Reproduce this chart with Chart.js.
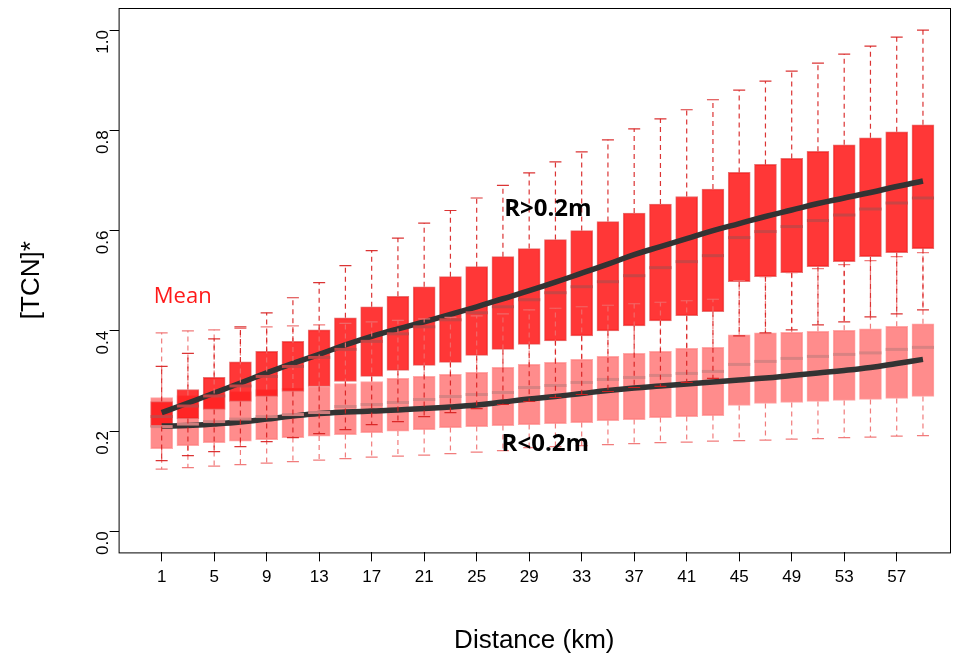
<!DOCTYPE html>
<html><head><meta charset="utf-8">
<script src="https://cdn.jsdelivr.net/npm/chart.js@4"></script>
<style>html,body{margin:0;background:#fff}#w{width:963px;height:660px}</style>
</head><body><div id="w"><canvas id="c"></canvas></div>
<script>
const distances=[1,3,5,7,9,11,13,15,17,19,21,23,25,27,29,31,33,35,37,39,41,43,45,47,49,51,53,55,57,59];
const xTicks=[1,5,9,13,17,21,25,29,33,37,41,45,49,53,57];
const yTicks=[0,0.2,0.4,0.6,0.8,1.0];
// R>0.2m
const hiLow=[0.141,0.151,0.159,0.169,0.179,0.187,0.195,0.203,0.213,0.219,0.229,0.237,0.245,0.253,0.259,0.267,0.273,0.279,0.287,0.289,0.297,0.305,0.390,0.396,0.402,0.412,0.418,0.428,0.434,0.442];
const hiQ1=[0.209,0.225,0.243,0.259,0.269,0.279,0.289,0.299,0.309,0.321,0.331,0.337,0.351,0.363,0.373,0.380,0.390,0.400,0.410,0.420,0.430,0.438,0.498,0.508,0.516,0.528,0.538,0.548,0.556,0.564];
const hiMed=[0.229,0.250,0.270,0.290,0.309,0.329,0.347,0.363,0.379,0.394,0.408,0.422,0.436,0.448,0.462,0.476,0.488,0.498,0.510,0.526,0.538,0.550,0.586,0.598,0.608,0.620,0.631,0.643,0.655,0.665];
const hiQ3=[0.259,0.283,0.307,0.338,0.359,0.379,0.402,0.426,0.448,0.469,0.488,0.508,0.528,0.548,0.564,0.582,0.600,0.618,0.635,0.653,0.668,0.683,0.716,0.732,0.744,0.758,0.771,0.785,0.797,0.811];
const hiHigh=[0.329,0.355,0.384,0.408,0.436,0.466,0.496,0.530,0.560,0.585,0.615,0.640,0.665,0.690,0.715,0.737,0.757,0.781,0.803,0.823,0.841,0.861,0.880,0.898,0.918,0.934,0.952,0.968,0.986,1.000];
// R<0.2m
const loLow=[0.124,0.127,0.130,0.133,0.136,0.139,0.142,0.145,0.148,0.150,0.152,0.155,0.158,0.161,0.167,0.169,0.171,0.173,0.175,0.177,0.178,0.180,0.181,0.182,0.184,0.185,0.187,0.188,0.190,0.191];
const loQ1=[0.165,0.171,0.177,0.180,0.183,0.187,0.190,0.193,0.197,0.200,0.203,0.207,0.209,0.211,0.213,0.215,0.217,0.221,0.223,0.227,0.229,0.231,0.251,0.255,0.257,0.259,0.261,0.263,0.265,0.269];
const loMed=[0.209,0.214,0.219,0.224,0.229,0.233,0.237,0.249,0.253,0.257,0.263,0.269,0.273,0.277,0.287,0.291,0.297,0.303,0.307,0.311,0.315,0.319,0.333,0.339,0.345,0.349,0.353,0.356,0.363,0.367];
const loQ3=[0.267,0.271,0.275,0.279,0.283,0.286,0.289,0.295,0.299,0.305,0.309,0.313,0.317,0.327,0.333,0.337,0.343,0.349,0.355,0.359,0.365,0.367,0.392,0.396,0.397,0.399,0.401,0.404,0.409,0.414];
const loHigh=[0.396,0.400,0.402,0.405,0.408,0.410,0.412,0.415,0.418,0.421,0.424,0.427,0.430,0.434,0.442,0.445,0.448,0.451,0.454,0.457,0.460,0.463,0.500,0.508,0.516,0.524,0.532,0.540,0.548,0.556];
const meanHi=[0.237,0.256,0.276,0.296,0.316,0.335,0.353,0.372,0.389,0.404,0.418,0.433,0.448,0.464,0.480,0.497,0.515,0.533,0.552,0.568,0.584,0.600,0.614,0.628,0.641,0.654,0.665,0.676,0.688,0.699];
const meanLo=[0.210,0.211,0.214,0.218,0.224,0.230,0.235,0.238,0.240,0.242,0.245,0.248,0.252,0.258,0.264,0.269,0.275,0.281,0.286,0.290,0.294,0.298,0.302,0.306,0.311,0.316,0.321,0.327,0.335,0.343];

const boxData=(q1,q3)=>distances.map((d,i)=>({x:d,y:[q1[i],q3[i]]}));
const lineData=a=>distances.map((d,i)=>({x:d,y:a[i]}));

const whisk={id:'whisk',afterDatasetsDraw(ch){
  const ctx=ch.ctx,xs=ch.scales.x,ys=ch.scales.y;
  const sets=[[loLow,loQ1,loMed,loQ3,loHigh,'rgba(240,110,110,0.9)','rgba(215,130,130,0.95)'],
              [hiLow,hiQ1,hiMed,hiQ3,hiHigh,'rgba(215,30,30,0.9)','rgba(200,70,70,0.95)']];
  ctx.save();
  sets.forEach(s=>{
    distances.forEach((d,i)=>{
      const x=xs.getPixelForValue(d);
      ctx.strokeStyle=s[5];ctx.lineWidth=1.2;ctx.setLineDash([5,4]);
      ctx.beginPath();
      ctx.moveTo(x,ys.getPixelForValue(s[3][i]));ctx.lineTo(x,ys.getPixelForValue(s[4][i]));
      ctx.moveTo(x,ys.getPixelForValue(s[1][i]));ctx.lineTo(x,ys.getPixelForValue(s[0][i]));
      ctx.stroke();ctx.setLineDash([]);
      ctx.beginPath();
      [s[0][i],s[4][i]].forEach(v=>{const y=ys.getPixelForValue(v);ctx.moveTo(x-6,y);ctx.lineTo(x+6,y);});
      ctx.stroke();
      ctx.strokeStyle=s[6];ctx.lineWidth=3;
      ctx.beginPath();const ym=ys.getPixelForValue(s[2][i]);ctx.moveTo(x-11,ym);ctx.lineTo(x+11,ym);ctx.stroke();
    });
  });
  ctx.restore();
}};
const frame={id:'frame',beforeDatasetsDraw(ch){
  const a=ch.chartArea,ctx=ch.ctx;ctx.save();ctx.strokeStyle='#000';ctx.lineWidth=1;
  ctx.strokeRect(a.left+0.5,a.top+0.5,a.right-a.left,a.bottom-a.top);
  const xs=ch.scales.x,ys=ch.scales.y;
  ctx.font='22px "Open Sans", sans-serif';ctx.fillStyle='#ff1a1a';ctx.fillText('Mean',xs.getPixelForValue(0.4),ys.getPixelForValue(0.455));
  ctx.restore();
},afterDraw(ch){
  const ctx=ch.ctx,xs=ch.scales.x,ys=ch.scales.y;ctx.save();
  ctx.font='bold 24px "Open Sans", sans-serif';ctx.fillStyle='#000';
  ctx.fillText('R>0.2m',xs.getPixelForValue(27.1),ys.getPixelForValue(0.63));
  ctx.fillText('R<0.2m',xs.getPixelForValue(26.9),ys.getPixelForValue(0.16));
  ctx.restore();
}};
const boxStyle=(bg,bd)=>({type:'bar',backgroundColor:bg,borderColor:bd,borderWidth:1,barThickness:22,borderSkipped:false,grouped:false});
new Chart(document.getElementById('c'),{
  data:{datasets:[
    {...boxStyle('rgba(255,120,120,0.85)','rgba(255,160,160,0.9)'),label:'R<0.2m',data:boxData(loQ1,loQ3),order:3},
    {...boxStyle('rgba(255,20,20,0.85)','rgba(230,100,100,0.9)'),label:'R>0.2m',data:boxData(hiQ1,hiQ3),order:2},
    {type:'line',label:'meanHi',data:lineData(meanHi),borderColor:'#333',borderWidth:5.5,pointRadius:0,tension:0.4,order:1},
    {type:'line',label:'meanLo',data:lineData(meanLo),borderColor:'#333',borderWidth:5.5,pointRadius:0,tension:0.4,order:1}
  ]},
  options:{responsive:true,maintainAspectRatio:false,animation:false,
    layout:{padding:{top:8,right:13,left:12,bottom:0}},
    plugins:{legend:{display:false},tooltip:{enabled:false}},
    scales:{
      x:{type:'linear',min:-2.28,max:61.06,offset:false,
        afterBuildTicks:s=>{s.ticks=xTicks.map(v=>({value:v}));},
        grid:{drawOnChartArea:false,drawTicks:true,tickLength:9,color:'#000',offset:false},border:{display:false},
        ticks:{color:'#000',font:{size:17,family:'"Liberation Sans", Arial'},padding:6},
        title:{display:true,text:'Distance (km)',color:'#000',font:{size:26,family:'"Liberation Sans", Arial'},padding:{top:31}}},
      y:{min:-0.042,max:1.044,
        afterBuildTicks:s=>{s.ticks=yTicks.map(v=>({value:v}));},
        afterFit:s=>{s.paddingTop=0;s.paddingBottom=0;},
        grid:{drawOnChartArea:false,drawTicks:true,tickLength:9,color:'#000'},border:{display:false},
        ticks:{color:'#000',minRotation:90,maxRotation:90,font:{size:17,family:'"Liberation Sans", Arial'},padding:6,callback:v=>v.toFixed(1)},
        title:{display:true,text:'[TCN]*',color:'#000',font:{size:26,family:'"Liberation Sans", Arial'},padding:{bottom:30}}}
    }},
  plugins:[frame,whisk]
});
</script></body></html>
